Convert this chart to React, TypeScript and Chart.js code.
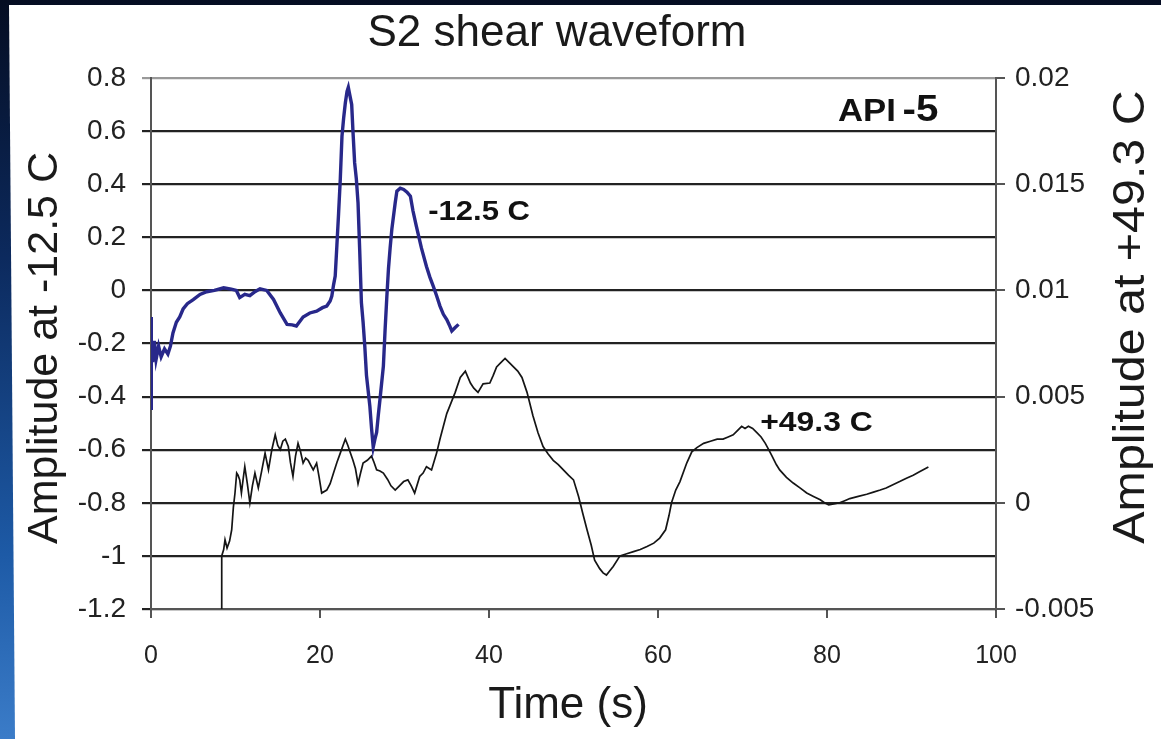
import React, { useEffect, useRef } from "react";
import { Chart, registerables } from "chart.js";

Chart.register(...registerables);

// ---------- data ----------
const chartTitle = "S2 shear waveform";
const xAxisTitle = "Time (s)";
const leftAxisTitle = "Amplitude at -12.5 C";
const rightAxisTitle = "Amplitude at +49.3 C";

const timeTicks = [0, 20, 40, 60, 80, 100];
const leftTicks = [0.8, 0.6, 0.4, 0.2, 0, -0.2, -0.4, -0.6, -0.8, -1, -1.2];
const rightTicks = [0.02, 0.015, 0.01, 0.005, 0, -0.005];

// -12.5 C trace (left axis)
const coldTime = [
  0, 0.02, 0.05, 0.2, 0.4, 0.6, 0.9, 1.2, 1.6, 2.0, 2.3, 2.6, 3.0, 3.4, 3.8, 4.3, 5.0, 5.8, 6.6, 7.5,
  8.6, 9.5, 10.1, 10.5, 11.1, 11.7, 12.3, 12.9, 13.7, 14.5, 15.3, 16.1, 16.7, 17.2, 18.0, 18.8, 19.6,
  20.3, 20.8, 21.2, 21.4, 21.6, 21.8, 22.0, 22.2, 22.4, 22.6, 22.8, 23.0, 23.2, 23.35, 23.5, 23.75,
  23.9, 24.1, 24.3, 24.5, 24.7, 24.9, 25.1, 25.3, 25.5, 25.9, 26.1, 26.3, 26.5, 26.7, 26.9, 27.1,
  27.5, 27.7, 27.9, 28.1, 28.3, 28.5, 28.9, 29.1, 29.5, 29.9, 30.3, 30.7, 31.0, 31.4, 32.0, 32.6,
  33.0, 33.4, 33.8, 34.2, 34.6, 35.0, 35.3, 35.6, 36.0, 36.4,
];
const coldAmp = [
  -0.1, -0.45, -0.2, -0.27, -0.19, -0.26, -0.21, -0.25, -0.22, -0.24, -0.21, -0.16, -0.12, -0.1,
  -0.07, -0.05, -0.035, -0.015, -0.005, 0.0, 0.01, 0.005, 0.0, -0.027, -0.015, -0.02, -0.005, 0.006,
  0.0, -0.034, -0.085, -0.128, -0.13, -0.134, -0.1, -0.085, -0.078, -0.065, -0.059, -0.04, -0.021,
  0.02, 0.054, 0.17, 0.29, 0.418, 0.58, 0.65, 0.707, 0.75, 0.765, 0.74, 0.7, 0.6, 0.48, 0.42, 0.33,
  0.15, -0.046, -0.12, -0.21, -0.32, -0.436, -0.52, -0.59, -0.56, -0.535, -0.47, -0.41, -0.285,
  -0.15, -0.03, 0.08, 0.16, 0.23, 0.33, 0.374, 0.385, 0.38, 0.37, 0.355, 0.3, 0.242, 0.16, 0.09,
  0.05, 0.016, -0.02, -0.059, -0.09, -0.11, -0.13, -0.153, -0.14, -0.128,
];

// +49.3 C trace (right axis)
const warmTime = [
  8.37, 8.37, 8.6, 8.76, 9.0, 9.3, 9.55, 9.75, 9.94, 10.14, 10.3, 10.5, 10.7, 10.9, 11.1, 11.4, 11.7,
  12.0, 12.3, 12.7, 13.1, 13.5, 13.9, 14.3, 14.7, 15.0, 15.3, 15.6, 15.9, 16.25, 16.5, 16.8, 17.1,
  17.4, 17.7, 18.0, 18.3, 18.6, 19.2, 19.6, 19.9, 20.2, 20.8, 21.2, 21.6, 22.0, 22.4, 23.0, 23.3,
  23.6, 23.9, 24.2, 24.5, 24.8, 25.1, 25.6, 26.1, 26.4, 26.7, 27.1, 27.5, 28.0, 28.4, 28.9, 29.4,
  29.9, 30.4, 30.8, 31.2, 31.8, 32.2, 32.6, 33.2, 33.8, 34.2, 34.6, 35.0, 35.4, 36.0, 36.6, 37.2,
  37.8, 38.2, 38.7, 39.3, 40.1, 40.5, 40.9, 41.4, 41.9, 42.4, 42.9, 43.4, 43.9, 44.5, 45.2, 45.8,
  46.4, 47.0, 47.6, 48.2, 48.8, 49.4, 50.0, 50.6, 51.1, 51.6, 52.1, 52.5, 53.1, 53.5, 53.9, 54.3,
  54.7, 55.5, 56.3, 57.1, 57.9, 58.7, 59.5, 60.2, 60.9, 61.3, 61.6, 62.1, 62.6, 63.4, 64.0, 64.6,
  65.4, 66.2, 67.0, 67.7, 68.3, 68.9, 69.4, 69.9, 70.3, 70.7, 71.2, 71.7, 72.2, 72.7, 73.1, 73.5,
  74.0, 74.4, 75.2, 76.0, 76.8, 77.6, 78.4, 79.2, 79.7, 80.2, 80.8, 81.5, 82.1, 82.7, 83.7, 84.7,
  85.5, 86.3, 87.0, 87.8, 88.6, 89.4, 90.2, 91.0, 92.0,
];
const warmAmp = [
  -0.005, -0.0025, -0.0022, -0.00174, -0.00213, -0.0018, -0.00127, -0.0002, 0.00046, 0.0014, 0.0013,
  0.00108, 0.00046, 0.0011, 0.0017, 0.0009, 0.0, 0.0008, 0.0014, 0.0007, 0.0015, 0.00234, 0.00155,
  0.0025, 0.0032, 0.0027, 0.0025, 0.0029, 0.003, 0.00265, 0.0019, 0.00124, 0.0022, 0.0028, 0.0024,
  0.00187, 0.0021, 0.002, 0.00155, 0.00187, 0.0012, 0.00046, 0.0006, 0.0009, 0.0014, 0.0019, 0.00234,
  0.003, 0.0027, 0.00234, 0.002, 0.0016, 0.0009, 0.0014, 0.00187, 0.002, 0.0022, 0.0019, 0.00155,
  0.0015, 0.0014, 0.0011, 0.0008, 0.0006, 0.0008, 0.001, 0.00108, 0.0008, 0.00046, 0.00124, 0.0014,
  0.0017, 0.00155, 0.00234, 0.003, 0.0036, 0.0042, 0.0046, 0.0052, 0.0059, 0.0062, 0.00564, 0.0054,
  0.0052, 0.0056, 0.00564, 0.006, 0.0064, 0.0066, 0.0068, 0.0066, 0.0064, 0.0062, 0.0059, 0.0052,
  0.0041, 0.0033, 0.00265, 0.0023, 0.002, 0.0018, 0.00155, 0.0013, 0.00108, 0.0003, -0.0005,
  -0.00127, -0.002, -0.0027, -0.0031, -0.0033, -0.0034, -0.0032, -0.003, -0.0025, -0.0024, -0.0023,
  -0.0022, -0.00206, -0.0019, -0.00166, -0.00127, -0.0006, 0.0, 0.0006, 0.001, 0.00187, 0.0024,
  0.0026, 0.0028, 0.0029, 0.003, 0.003, 0.0031, 0.0032, 0.0034, 0.0036, 0.0035, 0.0036, 0.0035,
  0.0033, 0.0031, 0.0028, 0.0025, 0.0022, 0.0018, 0.00155, 0.0012, 0.00093, 0.0007, 0.00046, 0.0003,
  0.00014, 0.0, -0.0001, -0.00005, 0.0, 0.0001, 0.0002, 0.0003, 0.0004, 0.0005, 0.0006, 0.0007,
  0.00085, 0.001, 0.00116, 0.0013, 0.00147, 0.00168,
];

const FONT = "'Liberation Sans', Arial, Helvetica, sans-serif";

const fmt = (v: number) => String(Number(Number(v).toFixed(4)));

function stretchedText(ctx: any, text: string, x: number, y: number, sx: number) {
  ctx.save();
  ctx.translate(x, y);
  ctx.scale(sx, 1);
  ctx.fillText(text, 0, 0);
  ctx.restore();
}

const textPlugin = {
  id: "texts",
  afterDraw(chart: any) {
    const ctx = chart.ctx;
    const xs = chart.scales.x;
    const yl = chart.scales.y;
    const yr = chart.scales.y2;
    ctx.save();
    ctx.fillStyle = "#1a1a1a";
    ctx.textBaseline = "middle";

    // main title
    ctx.textAlign = "center";
    ctx.font = `44px ${FONT}`;
    ctx.fillText(chartTitle, 557, 34);

    // x title
    ctx.font = `44px ${FONT}`;
    ctx.fillText(xAxisTitle, 568, 706);

    // left title
    ctx.save();
    ctx.translate(45, 348);
    ctx.rotate(-Math.PI / 2);
    ctx.font = `43px ${FONT}`;
    ctx.fillText(leftAxisTitle, 0, 0);
    ctx.restore();

    // right title
    ctx.save();
    ctx.translate(1132, 317);
    ctx.rotate(-Math.PI / 2);
    ctx.scale(1.1, 1);
    ctx.font = `44px ${FONT}`;
    ctx.fillText(rightAxisTitle, 0, 0);
    ctx.restore();

    // in-plot labels
    ctx.textAlign = "left";
    ctx.fillStyle = "#111";
    ctx.font = `bold 27px ${FONT}`;
    stretchedText(ctx, "-12.5 C", xs.getPixelForValue(32.8), yl.getPixelForValue(0.294), 1.15);
    stretchedText(ctx, "+49.3 C", xs.getPixelForValue(72.1), yr.getPixelForValue(0.00372), 1.18);

    const ax = xs.getPixelForValue(81.3);
    const ay = yl.getPixelForValue(0.67);
    ctx.font = `bold 31px ${FONT}`;
    stretchedText(ctx, "API", ax, ay, 1.12);
    const w = ctx.measureText("API ").width * 1.12;
    ctx.font = `bold 36px ${FONT}`;
    stretchedText(ctx, "-5", ax + w - 3, ay - 1, 1.12);
    ctx.restore();
  },
};

export default function App() {
  const ref = useRef<HTMLCanvasElement | null>(null);

  useEffect(() => {
    if (!ref.current) return;
    const chart = new Chart(ref.current, {
      type: "line",
      data: {
        datasets: [
          {
            label: "-12.5 C",
            data: coldTime.map((t, i) => ({ x: t, y: coldAmp[i] })),
            yAxisID: "y",
            borderColor: "#28288a",
            borderWidth: 3.4,
            pointRadius: 0,
            tension: 0,
          },
          {
            label: "+49.3 C",
            data: warmTime.map((t, i) => ({ x: t, y: warmAmp[i] })),
            yAxisID: "y2",
            borderColor: "#151515",
            borderWidth: 1.7,
            pointRadius: 0,
            tension: 0,
          },
        ],
      },
      options: {
        animation: false,
        responsive: false,
        layout: { padding: { top: 78, left: 0, right: 0, bottom: 0 } },
        plugins: {
          legend: { display: false },
          tooltip: { enabled: false },
          title: { display: false },
        },
        scales: {
          x: {
            type: "linear",
            position: "bottom",
            min: 0,
            max: 100,
            afterBuildTicks: (s: any) => {
              s.ticks = timeTicks.map((v) => ({ value: v }));
            },
            afterFit: (s: any) => {
              s.height = 130;
            },
            ticks: {
              font: { family: FONT, size: 25 },
              color: "#222",
              padding: 23,
              maxRotation: 0,
              callback: (v: any) => fmt(v),
            },
            grid: {
              drawOnChartArea: false,
              drawTicks: true,
              tickLength: 9,
              color: "#555",
              lineWidth: 2,
            },
            border: { display: true, color: "#555", width: 2 },
          },
          y: {
            type: "linear",
            position: "left",
            min: -1.2,
            max: 0.8,
            afterBuildTicks: (s: any) => {
              s.ticks = leftTicks.map((v) => ({ value: v }));
            },
            afterFit: (s: any) => {
              s.width = 151;
            },
            ticks: {
              font: { family: FONT, size: 28 },
              color: "#222",
              padding: 16,
              callback: (v: any) => fmt(v),
            },
            grid: {
              drawTicks: true,
              tickLength: 9,
              color: (c: any) => (c.tick && Math.abs(c.tick.value - 0.8) < 1e-9 ? "#999" : "#222"),
              lineWidth: 2.2,
            },
            border: { display: true, color: "#555", width: 2 },
          },
          y2: {
            type: "linear",
            position: "right",
            min: -0.005,
            max: 0.02,
            afterBuildTicks: (s: any) => {
              s.ticks = rightTicks.map((v) => ({ value: v }));
            },
            afterFit: (s: any) => {
              s.width = 165;
            },
            ticks: {
              font: { family: FONT, size: 28 },
              color: "#222",
              padding: 10,
              callback: (v: any) => fmt(v),
            },
            grid: {
              drawOnChartArea: false,
              drawTicks: true,
              tickLength: 9,
              color: "#555",
              lineWidth: 2,
            },
            border: { display: true, color: "#555", width: 2 },
          },
        },
      } as any,
      plugins: [textPlugin],
    });
    return () => chart.destroy();
  }, []);

  return (
    <div
      style={{
        position: "fixed",
        left: 0,
        top: 0,
        width: 1161,
        height: 739,
        overflow: "hidden",
        background: "linear-gradient(to bottom, #050d22 0%, #0c2a5e 35%, #1d5aa6 75%, #3b7cc8 100%)",
      }}
    >
      <div
        style={{
          position: "absolute",
          left: 0,
          top: 0,
          width: 1161,
          height: 739,
          background: "#fff",
          clipPath: "polygon(9px 5px, 1161px 5px, 1161px 739px, 15px 739px)",
        }}
      />
      <canvas ref={ref} width={1161} height={739} style={{ position: "absolute", left: 0, top: 0 }} />
    </div>
  );
}
